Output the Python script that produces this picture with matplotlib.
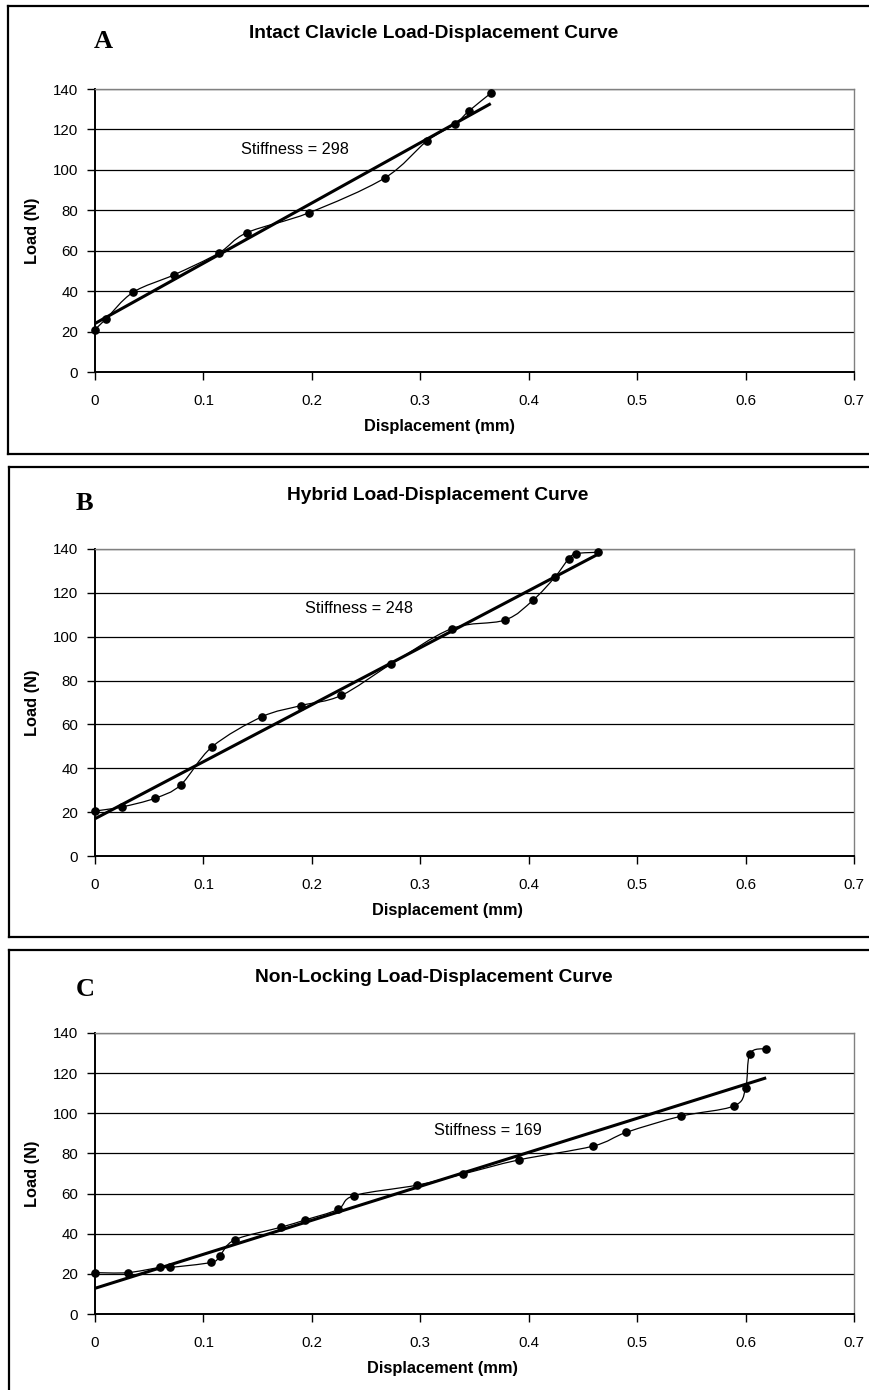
import matplotlib
matplotlib.use("Agg")
import matplotlib.pyplot as plt
import numpy as np
from matplotlib.path import Path
from matplotlib.patches import PathPatch
from matplotlib.lines import Line2D

plt.rcParams['font.family'] = ['Liberation Sans', 'DejaVu Sans']

W, H = 870, 1390

# ---- data ----
titles = ["Intact Clavicle Load-Displacement Curve",
          "Hybrid Load-Displacement Curve",
          "Non-Locking Load-Displacement Curve"]
letters = ["A", "B", "C"]
stiffness_labels = ["Stiffness = 298", "Stiffness = 248", "Stiffness = 169"]

disp_a = [0.0, 0.010, 0.035, 0.073, 0.114, 0.140, 0.197, 0.267, 0.306, 0.332, 0.345, 0.365]
load_a = [21.0, 26.2, 39.4, 48.1, 58.8, 68.9, 78.7, 95.9, 114.2, 122.7, 129.2, 137.9]

disp_b = [0.0, 0.025, 0.055, 0.079, 0.108, 0.154, 0.190, 0.227, 0.273, 0.329,
          0.378, 0.404, 0.424, 0.437, 0.444, 0.464]
load_b = [20.5, 22.4, 26.3, 32.4, 49.8, 63.5, 68.6, 73.2, 87.5, 103.7,
          107.6, 116.7, 127.1, 135.6, 137.9, 138.5]

disp_c = [0.0, 0.030, 0.060, 0.069, 0.107, 0.115, 0.129, 0.172, 0.194, 0.224,
          0.239, 0.297, 0.339, 0.391, 0.459, 0.490, 0.540, 0.589, 0.600, 0.604, 0.619]
load_c = [20.6, 20.6, 23.2, 23.2, 25.7, 28.9, 37.0, 43.3, 46.9, 52.1,
          59.0, 64.2, 69.7, 76.8, 83.6, 90.5, 98.5, 103.6, 112.4, 129.7, 132.2]

# linear trend lines (slope, intercept) as drawn
trend_slope = [298, 260, 169.4]
trend_icpt = [24.0, 17.0, 12.8]
# stiffness label anchor (displacement, load)
stiff_pos = [(0.135, 110.2), (0.194, 112.8), (0.313, 91.5)]

x_ticks = [0, 0.1, 0.2, 0.3, 0.4, 0.5, 0.6, 0.7]
x_tick_labels = ["0", "0.1", "0.2", "0.3", "0.4", "0.5", "0.6", "0.7"]
y_ticks = [0, 20, 40, 60, 80, 100, 120, 140]

# ---- layout in pixels ----
plot_left, plot_right = 95, 854
plot_tb = [(89, 372), (549, 856), (1033, 1314)]
title_xy = [(249, 34), (287, 496), (255, 977)]
letter_xy = [(94, 42), (76, 503), (76, 990)]
xlabel_xy = [(364, 426), (372, 910), (367, 1368)]
box = [(8.5, 5.7, 454), (9, 467, 937), (9.5, 950, 1396)]


def fx(x):
    return x / W


def fy(y):
    return 1 - y / H


def smooth_path(x, y):
    # Excel-style smoothed line: cubic bezier through the points
    p = np.column_stack([x, y])
    n = len(p)
    verts = [p[0]]
    codes = [Path.MOVETO]
    for i in range(n - 1):
        p0 = p[i - 1] if i > 0 else p[i]
        p1, p2 = p[i], p[i + 1]
        p3 = p[i + 2] if i + 2 < n else p[i + 1]
        verts += [p1 + (p2 - p0) / 6, p2 - (p3 - p1) / 6, p2]
        codes += [Path.CURVE4] * 3
    return Path(verts, codes)


fig = plt.figure(figsize=(W / 100, H / 100), dpi=100)
fig.patch.set_facecolor("white")

series = [(disp_a, load_a), (disp_b, load_b), (disp_c, load_c)]

for i, (xs, ys) in enumerate(series):
    top, bot = plot_tb[i]
    ax = fig.add_axes([fx(plot_left), fy(bot), fx(plot_right - plot_left), (bot - top) / H])
    ax.set_xlim(0, 0.7)
    ax.set_ylim(0, 140)
    ax.set_xticks(x_ticks)
    ax.set_xticklabels(x_tick_labels)
    ax.set_yticks(y_ticks)
    ax.tick_params(direction="out", length=6, width=1, labelsize=10.8, colors="black")
    ax.tick_params(axis="x", pad=10)
    ax.tick_params(axis="y", pad=6)
    ax.yaxis.grid(True, color="black", lw=0.9)
    ax.set_axisbelow(True)
    for s in ("left", "bottom"):
        ax.spines[s].set_linewidth(1.4)
        ax.spines[s].set_color("black")
    for s in ("top", "right"):
        ax.spines[s].set_linewidth(1.0)
        ax.spines[s].set_color("#808080")

    ax.add_patch(PathPatch(smooth_path(xs, ys), fill=False, lw=0.9, ec="black", zorder=3))
    ax.plot(xs, ys, "o", ms=5.2, color="black", clip_on=False, zorder=5)
    x_end = xs[-1]
    ax.plot([0, x_end], [trend_icpt[i], trend_icpt[i] + trend_slope[i] * x_end],
            color="black", lw=2.2, zorder=4, solid_capstyle="butt")
    ax.text(stiff_pos[i][0], stiff_pos[i][1], stiffness_labels[i], fontsize=11.7,
            ha="left", va="center")

    # chart text
    fig.text(fx(title_xy[i][0]), fy(title_xy[i][1]), titles[i], fontsize=13.8,
             fontweight="bold", ha="left", va="center")
    fig.text(fx(letter_xy[i][0]), fy(letter_xy[i][1]), letters[i], fontsize=19,
             fontweight="bold", family="Liberation Serif", ha="left", va="center")
    fig.text(fx(xlabel_xy[i][0]), fy(xlabel_xy[i][1]), "Displacement (mm)", fontsize=11.8,
             fontweight="bold", ha="left", va="center")
    fig.text(fx(33), fy((top + bot) / 2), "Load (N)", fontsize=11.8, fontweight="bold",
             rotation=90, ha="center", va="center")

    # panel frame (right edge falls outside the picture)
    bl, bt, bb = box[i]
    fig.add_artist(Line2D([fx(bl), fx(bl)], [fy(bt), fy(bb)], color="black", lw=1.6))
    fig.add_artist(Line2D([fx(bl), 1.01], [fy(bt), fy(bt)], color="black", lw=1.6))
    fig.add_artist(Line2D([fx(bl), 1.01], [fy(bb), fy(bb)], color="black", lw=1.6))

fig.savefig("out.png", dpi=100)
